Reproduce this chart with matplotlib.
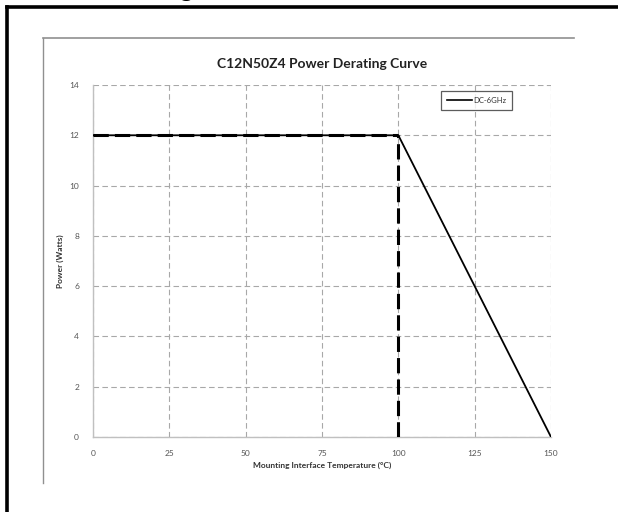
import matplotlib
matplotlib.use("Agg")
import matplotlib.pyplot as plt
from matplotlib.lines import Line2D

# Data
temp = [0, 100, 150]
power = [12, 12, 0]
knee_temp = 100
knee_power = 12
series_label = "DC-6GHz"
x_ticks = [0, 25, 50, 75, 100, 125, 150]
y_ticks = [0, 2, 4, 6, 8, 10, 12, 14]
title = "C12N50Z4 Power Derating Curve"
xlabel = "Mounting Interface Temperature (\u00b0C)"
ylabel = "Power (Watts)"

W, H = 618, 512
fig = plt.figure(figsize=(W / 100, H / 100), dpi=100)
plt.rcParams['font.family'] = ['Lato', 'DejaVu Sans']

def fx(px):
    return px / W

def fy(py):
    return 1 - py / H

# Plot area: x 93..551, y 85..437
ax = fig.add_axes([fx(93), fy(437), fx(551) - fx(93), fy(85) - fy(437)])
ax.set_xlim(0, 150)
ax.set_ylim(0, 14)

ax.set_xticks(x_ticks)
ax.set_yticks(y_ticks)
ax.tick_params(axis='both', length=0, labelsize=6, labelcolor='#555555', pad=9)
ax.tick_params(axis='y', pad=10)

ax.grid(True, color='#a8a8a8', linestyle=(0, (5, 3)), linewidth=0.8)
for s in ['top', 'right']:
    ax.spines[s].set_visible(False)
for s in ['left', 'bottom']:
    ax.spines[s].set_color('#c0c0c0')
    ax.spines[s].set_linewidth(1.0)

ax.plot(temp, power, color='black', linewidth=1.3, label=series_label, zorder=3)
ax.plot([temp[0], knee_temp], [knee_power, knee_power], color='black',
        linewidth=2.2, linestyle=(0, (5, 2)), zorder=4)
ax.plot([knee_temp, knee_temp], [0, knee_power], color='black',
        linewidth=2.2, linestyle=(0, (5, 2)), zorder=4)

ax.set_title(title, fontsize=10, fontweight='bold', color='#222222', pad=12)
ax.set_xlabel(xlabel, fontsize=6, fontweight='bold', color='#333333', labelpad=4)
ax.set_ylabel(ylabel, fontsize=6, fontweight='bold', color='#333333', labelpad=4)

leg = fig.legend(handles=[Line2D([0], [0], color='black', linewidth=1.2)],
                 labels=[series_label], loc='upper left',
                 bbox_to_anchor=(fx(441), fy(91)), fontsize=5.5, frameon=True,
                 fancybox=False, handlelength=3.2, borderpad=0.8,
                 handletextpad=0.2, borderaxespad=0)
leg.get_frame().set_edgecolor('#333333')
leg.get_frame().set_linewidth(0.9)
for t in leg.get_texts():
    t.set_color('#333333')

# Chart area border (top and left only)
fig.add_artist(Line2D([fx(43), fx(574)], [fy(38), fy(38)], color='#909090', linewidth=1.2))
fig.add_artist(Line2D([fx(43), fx(43)], [fy(38), fy(483)], color='#909090', linewidth=1.0))

# Outer black frame (top and left visible)
fig.add_artist(Line2D([fx(7), 1.01], [fy(7), fy(7)], color='black', linewidth=2.6))
fig.add_artist(Line2D([fx(7), fx(7)], [fy(7), -0.01], color='black', linewidth=2.6))

# Partial heading glyph cut off at top (as in the reference)
fig.text(fx(186), fy(-3), "g", fontsize=18, fontweight='bold', color='black',
         ha='center', va='baseline')

fig.savefig("out.png", dpi=100)
